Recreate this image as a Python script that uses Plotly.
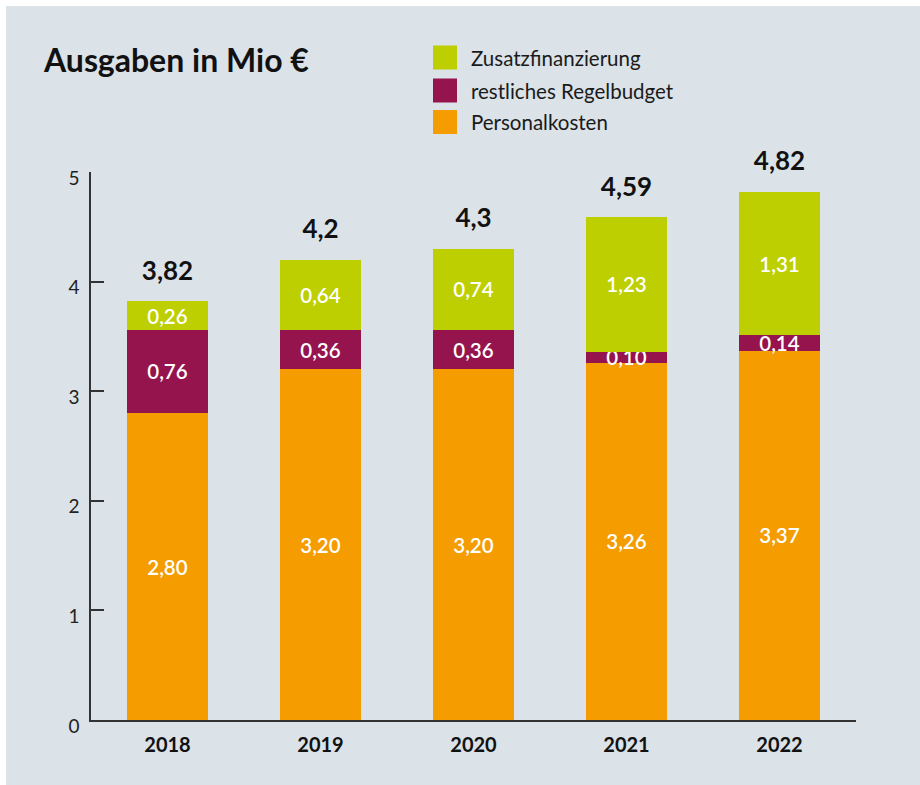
import plotly.graph_objects as go

years = ["2018", "2019", "2020", "2021", "2022"]
personalkosten = [2.80, 3.20, 3.20, 3.26, 3.37]
regelbudget = [0.76, 0.36, 0.36, 0.10, 0.14]
zusatz = [0.26, 0.64, 0.74, 1.23, 1.31]
totals = [3.82, 4.2, 4.3, 4.59, 4.82]
total_labels = ["3,82", "4,2", "4,3", "4,59", "4,82"]
series_names = ["Zusatzfinanzierung", "restliches Regelbudget", "Personalkosten"]
y_ticks = [0, 1, 2, 3, 4, 5]

C_GREEN = "#bdcf00"
C_PURPLE = "#95144e"
C_ORANGE = "#f49c00"
BG = "#dbe2e8"
FONT = "Lato"

W, H = 920, 785
L, R, T, B = 91, 64, 172, 65

def de(v, nd=2):
    return f"{v:.{nd}f}".replace(".", ",")

fig = go.Figure()
for vals, col in [(personalkosten, C_ORANGE), (regelbudget, C_PURPLE), (zusatz, C_GREEN)]:
    fig.add_trace(go.Bar(
        x=years, y=vals, marker=dict(color=col, line=dict(width=0)),
        width=0.523, text=[de(v) for v in vals], textposition="inside",
        insidetextanchor="middle", constraintext="none",
        textfont=dict(family=FONT, size=20.5, color="white", weight=600),
        showlegend=False, hoverinfo="skip", cliponaxis=False,
    ))

# total labels above the stacks (invisible marker pushes the text up)
fig.add_trace(go.Scatter(
    x=years, y=totals, mode="markers+text", text=total_labels, textposition="top center",
    marker=dict(size=22, color="rgba(0,0,0,0)"),
    textfont=dict(family=FONT, size=26, color="#111111", weight="bold"),
    showlegend=False, hoverinfo="skip", cliponaxis=False,
))

plot_w = W - L - R
plot_h = H - T - B

def px_x(px):
    return (px - L) / plot_w

def px_y(py):
    return (H - B - py) / plot_h

shapes = []
# background panel
shapes.append(dict(type="rect", xref="paper", yref="paper", layer="below",
                   x0=px_x(6), x1=px_x(925), y0=px_y(790), y1=px_y(6),
                   fillcolor=BG, line=dict(width=0)))
# manual legend
leg_colors = [C_GREEN, C_PURPLE, C_ORANGE]
leg_centers = [57.5, 90.5, 122]
for name, col, cy in zip(series_names, leg_colors, leg_centers):
    shapes.append(dict(type="rect", xref="paper", yref="paper",
                       x0=px_x(433), x1=px_x(457), y0=px_y(cy + 12), y1=px_y(cy - 12),
                       fillcolor=col, line=dict(width=0)))
    fig.add_annotation(xref="paper", yref="paper", x=px_x(469), y=px_y(cy),
                       xanchor="left", yanchor="middle", text=name, showarrow=False,
                       font=dict(family=FONT, size=20.5, color="#1a1a1a"))

fig.update_layout(
    width=W, height=H,
    margin=dict(l=L, r=R, t=T, b=B),
    paper_bgcolor="white", plot_bgcolor="rgba(0,0,0,0)",
    barmode="stack", bargap=0.477,
    shapes=shapes,
    title=dict(text="<b>Ausgaben in Mio €</b>", xref="container", yref="container",
               x=44 / W, y=1 - 61 / H, xanchor="left", yanchor="middle",
               font=dict(family=FONT, size=32, color="#111111")),
    font=dict(family=FONT),
)
fig.update_xaxes(
    type="category", range=[-0.5, 4.5], showline=True, linecolor="#333333", linewidth=1.5,
    ticks="", showgrid=False, zeroline=False,
    tickfont=dict(family=FONT, size=20, color="#111111", weight="bold"),
    ticklabelstandoff=6,
)
fig.update_yaxes(
    range=[0, 5], tickvals=y_ticks, ticktext=[str(v) for v in y_ticks],
    showline=True, linecolor="#333333", linewidth=1.5,
    ticks="inside", ticklen=13, tickwidth=1.5, tickcolor="#333333",
    showgrid=False, zeroline=False,
    tickfont=dict(family=FONT, size=19, color="#222222"),
    ticklabelstandoff=6, ticklabelshift=6,
)

fig.write_html("out.html", config={"displayModeBar": False},
               post_script="document.body.style.margin='0';document.body.style.overflow='hidden';")
